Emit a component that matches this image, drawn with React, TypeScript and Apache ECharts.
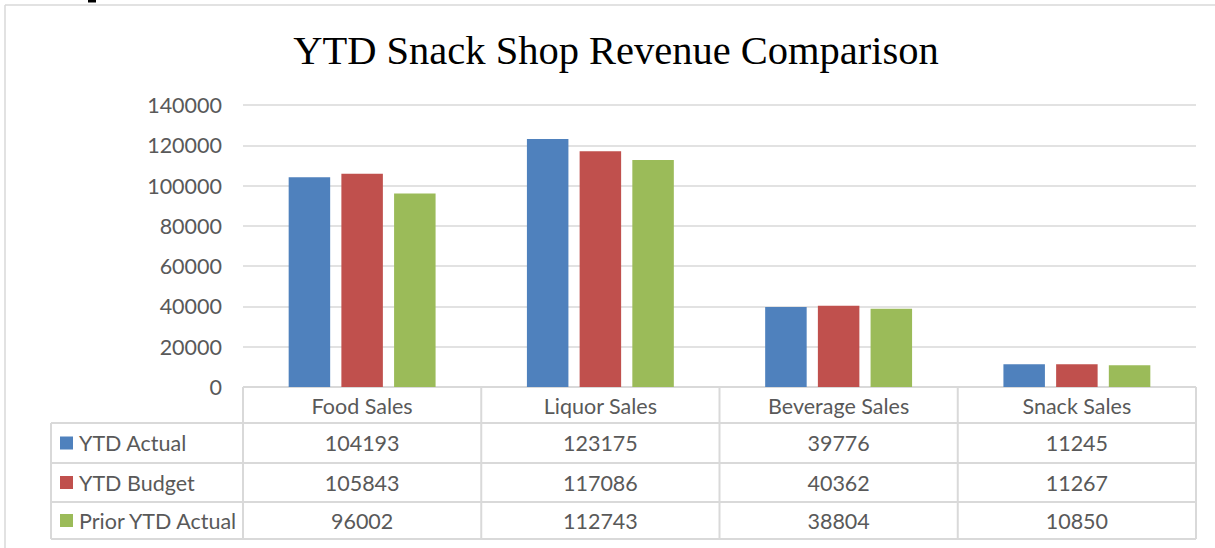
import React, { useEffect, useRef } from "react";
import * as echarts from "echarts";

const TITLE = "YTD Snack Shop Revenue Comparison";
const categories = ["Food Sales", "Liquor Sales", "Beverage Sales", "Snack Sales"];
const seriesNames = ["YTD Actual", "YTD Budget", "Prior YTD Actual"];
const ytdActual = [104193, 123175, 39776, 11245];
const ytdBudget = [105843, 117086, 40362, 11267];
const priorYtdActual = [96002, 112743, 38804, 10850];
const seriesValues = [ytdActual, ytdBudget, priorYtdActual];
const seriesColors = ["#4F81BD", "#C0504D", "#9BBB59"];
const yMin = 0;
const yMax = 140000;
const yInterval = 20000;

const W = 1215;
const H = 548;
const GRID_L = 243;
const GRID_R = 1196;
const GRID_T = 105;
const GRID_B = 387;
const TABLE_L = 51;
const ROW_Y = [387, 423, 463, 502, 539];
const LINE = "#d9d9d9";
const TXT = "#595959";
const FONT = "Lato, 'Open Sans', sans-serif";
const FS = 21.5;

export default function App() {
  const ref = useRef<HTMLDivElement>(null);
  useEffect(() => {
    if (!ref.current) return;
    const chart = echarts.init(ref.current, undefined, { renderer: "svg", width: W, height: H });
    const colW = (GRID_R - GRID_L) / categories.length;
    const graphics: any[] = [];
    // outer frame
    graphics.push({ type: "line", shape: { x1: 5, y1: 5, x2: W, y2: 5 }, style: { stroke: LINE, lineWidth: 1.5 } });
    graphics.push({ type: "line", shape: { x1: 5, y1: 5, x2: 5, y2: H }, style: { stroke: LINE, lineWidth: 1.5 } });
    // fragment of a heading cut by the page top (glyph foot)
    graphics.push({
      type: "polygon",
      shape: { points: [[88, 0], [96, 0], [96, 2.5], [88, 2.5]] },
      style: { fill: "#000" },
    });
    // table horizontal lines
    graphics.push({ type: "line", shape: { x1: GRID_L, y1: ROW_Y[0], x2: GRID_R, y2: ROW_Y[0] }, style: { stroke: LINE, lineWidth: 2 } });
    for (let r = 1; r < ROW_Y.length; r++) {
      graphics.push({ type: "line", shape: { x1: TABLE_L, y1: ROW_Y[r], x2: GRID_R, y2: ROW_Y[r] }, style: { stroke: LINE, lineWidth: 2 } });
    }
    // vertical lines
    graphics.push({ type: "line", shape: { x1: TABLE_L, y1: ROW_Y[1], x2: TABLE_L, y2: ROW_Y[4] }, style: { stroke: LINE, lineWidth: 2 } });
    for (let c = 0; c <= categories.length; c++) {
      const x = GRID_L + c * colW;
      graphics.push({ type: "line", shape: { x1: x, y1: ROW_Y[0], x2: x, y2: ROW_Y[4] }, style: { stroke: LINE, lineWidth: 2 } });
    }
    // rows
    seriesNames.forEach((name, s) => {
      const cy = (ROW_Y[s + 1] + ROW_Y[s + 2]) / 2;
      graphics.push({ type: "rect", shape: { x: 60, y: cy - 6.5, width: 13, height: 13 }, style: { fill: seriesColors[s] } });
      graphics.push({ type: "text", x: 79, y: cy, style: { text: name, font: `${FS}px ${FONT}`, fill: TXT, align: "left", verticalAlign: "middle" } });
      seriesValues[s].forEach((v, c) => {
        graphics.push({ type: "text", x: GRID_L + (c + 0.5) * colW, y: cy, style: { text: String(v), font: `${FS}px ${FONT}`, fill: TXT, align: "center", verticalAlign: "middle" } });
      });
    });

    chart.setOption({
      animation: false,
      title: {
        text: TITLE,
        left: 611,
        top: 25,
        textAlign: "center",
        textStyle: { fontFamily: "'Liberation Serif', serif", fontSize: 40.5, fontWeight: "normal", color: "#000" },
      },
      grid: { left: GRID_L, right: W - GRID_R, top: GRID_T, bottom: H - GRID_B, containLabel: false },
      xAxis: {
        type: "category",
        data: categories,
        axisLine: { show: false },
        axisTick: { show: false },
        axisLabel: { margin: 8, fontFamily: FONT, fontSize: FS, color: TXT },
      },
      yAxis: {
        type: "value",
        min: yMin,
        max: yMax,
        interval: yInterval,
        axisLine: { show: false },
        axisTick: { show: false },
        axisLabel: { margin: 21, fontFamily: FONT, fontSize: FS, color: TXT, formatter: (v: number) => String(v) },
        splitLine: { lineStyle: { color: LINE, width: 1.5 } },
      },
      series: seriesNames.map((name, s) => ({
        name,
        type: "bar",
        data: seriesValues[s],
        barWidth: 41.5,
        barGap: "27%",
        itemStyle: { color: seriesColors[s] },
      })),
      graphic: graphics,
    });
    return () => chart.dispose();
  }, []);
  return <div ref={ref} style={{ position: "fixed", left: 0, top: 0, width: W, height: H, background: "#fff" }} />;
}
